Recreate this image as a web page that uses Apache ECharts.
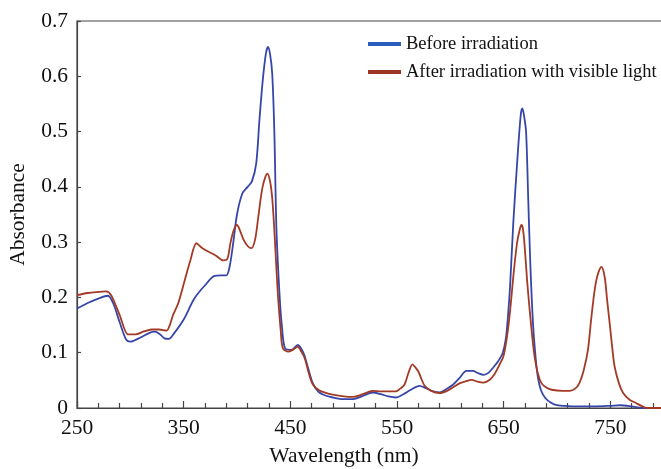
<!DOCTYPE html>
<html>
<head>
<meta charset="utf-8">
<script src="https://cdn.jsdelivr.net/npm/echarts@6/dist/echarts.min.js"></script>
<style>
html,body{margin:0;padding:0;background:#fff;}
#chart{width:661px;height:469px;}
</style>
</head>
<body>
<div id="chart"></div>
<script>
// Wavelength (nm) and absorbance
const beforeWl = [250,260,270,279,284,290,296,300,310,318,323,328,332,336,341,350,360,370,379,385,390,393,396,400,405,410,414,418,421,424,427,429,431,433,435,437,440,442,445,451,457,460,463,467,471,476,481,490,500,509,518,527,535,542,549,556,563,571,577,584,590,596,603,609,615,621,626,631,636,641,645,649,652,654,656,659,663,666,667.5,669,671,673,675,677.5,680,682,685,689,694,700,715,737,750,759,770,781,800];
const beforeAbs = [0.180,0.190,0.198,0.203,0.189,0.155,0.124,0.120,0.128,0.136,0.138,0.133,0.126,0.125,0.135,0.160,0.198,0.222,0.239,0.240,0.240,0.255,0.292,0.350,0.388,0.400,0.410,0.442,0.520,0.590,0.640,0.653,0.640,0.605,0.500,0.322,0.201,0.150,0.108,0.105,0.114,0.108,0.096,0.070,0.045,0.030,0.024,0.019,0.016,0.016,0.022,0.028,0.025,0.021,0.019,0.025,0.033,0.040,0.036,0.030,0.028,0.034,0.043,0.055,0.067,0.067,0.063,0.060,0.064,0.075,0.085,0.099,0.125,0.165,0.220,0.334,0.454,0.530,0.542,0.530,0.500,0.380,0.260,0.153,0.090,0.057,0.032,0.018,0.010,0.005,0.003,0.003,0.004,0.005,0.003,0.000,0.000];

const afterWl = [250,260,270,277,282,290,298,305,312,320,327,334,337,340,345,351,356,362,367,373,380,387,391,394,397,400,403,406,410,413.5,417,420,424,428.5,431,433,435,437,438.5,441,443,448,453,457,460,463.5,467,471,477,484,490,500,509,518,527,535,549,553,557,561,564.5,567,570,573,576,582,590,597,603,609,614,620,625,631,637,641,646,650,654,656.5,659,662.5,665,666.6,668,669.7,672,674.4,677,679,682,685.4,690,695,705,712,717,721,725,729,732,735.3,738,741.6,744.7,747,749.4,752,754,758,762,768,774,780,784,800];
const afterAbs = [0.204,0.208,0.210,0.211,0.204,0.168,0.133,0.133,0.138,0.142,0.142,0.140,0.150,0.168,0.190,0.231,0.265,0.298,0.290,0.283,0.276,0.267,0.270,0.300,0.322,0.331,0.320,0.305,0.293,0.289,0.305,0.346,0.400,0.424,0.410,0.380,0.322,0.250,0.201,0.140,0.108,0.102,0.106,0.111,0.103,0.090,0.065,0.043,0.032,0.027,0.024,0.021,0.020,0.025,0.031,0.030,0.030,0.035,0.042,0.065,0.079,0.074,0.066,0.052,0.040,0.031,0.027,0.031,0.038,0.045,0.048,0.051,0.048,0.046,0.051,0.060,0.078,0.095,0.141,0.185,0.237,0.298,0.322,0.331,0.325,0.292,0.230,0.177,0.125,0.093,0.063,0.045,0.037,0.033,0.031,0.031,0.035,0.045,0.068,0.105,0.160,0.213,0.240,0.255,0.237,0.195,0.153,0.105,0.075,0.045,0.027,0.015,0.009,0.003,0.000,0.000];

const seriesNames = ['Before irradiation', 'After irradiation with visible light'];
const yTickLabels = ['0','0.1','0.2','0.3','0.4','0.5','0.6','0.7'];

// x axis is drawn relative to the axis start so ticks fall every 20 nm from 250 nm
const X0 = 250;
const FONT = '"Liberation Serif", "DejaVu Serif", serif';

const chart = echarts.init(document.getElementById('chart'), null, {renderer: 'canvas'});
chart.setOption({
  animation: false,
  backgroundColor: '#fff',
  grid: {
    left: 77, top: 21, width: 640, height: 387,
    outerBoundsMode: 'none',
    containLabel: false,
    show: true, borderColor: '#454545', borderWidth: 1.2, backgroundColor: 'transparent'
  },
  legend: {
    orient: 'vertical',
    left: 368, top: 33,
    padding: 0,
    itemGap: 6,
    itemWidth: 33, itemHeight: 4,
    icon: 'rect',
    textStyle: {fontFamily: FONT, fontSize: 18.5, color: '#111', lineHeight: 22},
    data: [
      {name: seriesNames[0], itemStyle: {color: '#2a5fbd'}},
      {name: seriesNames[1], itemStyle: {color: '#9e3522'}}
    ]
  },
  xAxis: {
    type: 'value',
    min: 0, max: 600, interval: 100,
    name: 'Wavelength (nm)',
    nameLocation: 'middle',
    nameGap: 37,
    nameTextStyle: {fontFamily: FONT, fontSize: 21.5, color: '#111', padding: [0, 106, 0, 0]},
    axisLine: {show: true, lineStyle: {color: '#454545', width: 1.2}},
    axisTick: {show: true, inside: true, length: 7, lineStyle: {color: '#454545', width: 1.2}},
    minorTick: {show: true, splitNumber: 5, length: 5, lineStyle: {color: '#454545', width: 1.2}},
    axisLabel: {
      fontFamily: FONT, fontSize: 21.5, color: '#111', margin: 9,
      formatter: v => String(v + X0)
    },
    splitLine: {show: false}
  },
  yAxis: {
    type: 'value',
    min: 0, max: 0.7, interval: 0.1,
    name: 'Absorbance',
    nameLocation: 'middle',
    nameGap: 48,
    nameTextStyle: {fontFamily: FONT, fontSize: 21.5, color: '#111'},
    axisLine: {show: true, lineStyle: {color: '#454545', width: 1.2}},
    axisTick: {show: true, inside: true, length: 4, lineStyle: {color: '#454545', width: 1.2}},
    axisLabel: {
      fontFamily: FONT, fontSize: 21.5, color: '#111', margin: 9,
      formatter: v => yTickLabels[Math.round(v * 10)]
    },
    splitLine: {show: false}
  },
  series: [
    {
      name: seriesNames[0],
      type: 'line',
      showSymbol: false,
      smooth: 0.3,
      color: '#3646a8',
      lineStyle: {width: 1.8, color: '#3646a8'},
      data: beforeWl.map((w, i) => [w - X0, beforeAbs[i]])
    },
    {
      name: seriesNames[1],
      type: 'line',
      showSymbol: false,
      smooth: 0.3,
      color: '#a33a26',
      lineStyle: {width: 1.8, color: '#a33a26'},
      data: afterWl.map((w, i) => [w - X0, afterAbs[i]])
    }
  ]
});
</script>
</body>
</html>
